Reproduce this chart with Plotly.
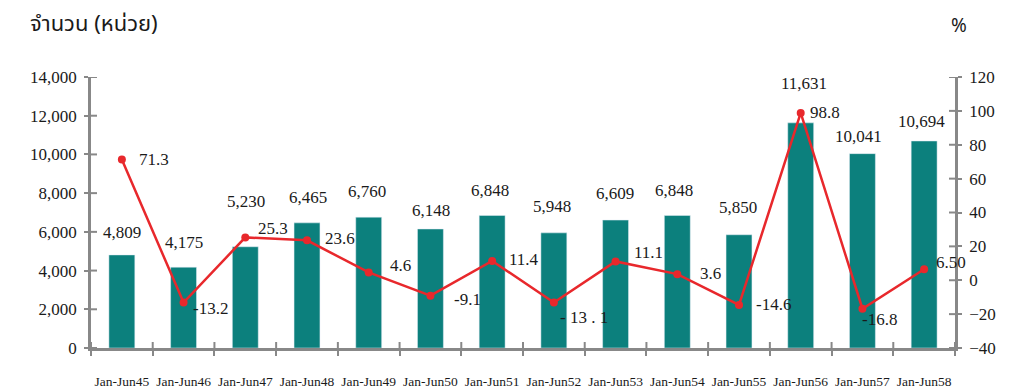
import plotly.graph_objects as go

categories = ["Jan-Jun45", "Jan-Jun46", "Jan-Jun47", "Jan-Jun48", "Jan-Jun49", "Jan-Jun50",
              "Jan-Jun51", "Jan-Jun52", "Jan-Jun53", "Jan-Jun54", "Jan-Jun55", "Jan-Jun56",
              "Jan-Jun57", "Jan-Jun58"]
units = [4809, 4175, 5230, 6465, 6760, 6148, 6848, 5948, 6609, 6848, 5850, 11631, 10041, 10694]
unit_labels = ["4,809", "4,175", "5,230", "6,465", "6,760", "6,148", "6,848", "5,948", "6,609",
               "6,848", "5,850", "11,631", "10,041", "10,694"]
growth = [71.3, -13.2, 25.3, 23.6, 4.6, -9.1, 11.4, -13.1, 11.1, 3.6, -14.6, 98.8, -16.8, 6.5]
growth_labels = ["71.3", "-13.2", "25.3", "23.6", "4.6", "-9.1", "11.4", "- 13 . 1", "11.1",
                 "3.6", "-14.6", "98.8", "-16.8", "6.50"]
left_ticks = [0, 2000, 4000, 6000, 8000, 10000, 12000, 14000]
left_tick_text = ["0", "2,000", "4,000", "6,000", "8,000", "10,000", "12,000", "14,000"]
right_ticks = [-40, -20, 0, 20, 40, 60, 80, 100, 120]

# label placement offsets (px) - styling only
bar_lbl_dx = [0, 0, 1, 1, -2, 1, -2, -2, -1, -3, -1, 3, -4, -3]
bar_lbl_dy = [22, 25, 45, 25, 26, 18, 25, 26, 27, 25, 27, 39, 17, 19]
ln_lbl_dx = [15, 7, 11, 16, 19, 22, 15, 4, 16, 21, 15, 7, -2, 10]
ln_lbl_dy = [0, -6, 9, 2, 7, -4, 1, -15, 9, 1, 0, 0, -11, 7]

BAR = "#0C807D"
RED = "#E8282C"
AX = "#888888"
SERIF = "Liberation Serif"
TXT = "#1a1a1a"

W, H = 1016, 390
ml, mr, mt, mb = 91, 61, 77, 42
pw, ph = W - ml - mr, H - mt - mb

fig = go.Figure()
fig.add_trace(go.Bar(x=categories, y=units, marker_color=BAR, width=0.42,
                     hoverinfo="skip", yaxis="y"))
fig.add_trace(go.Scatter(x=categories, y=growth, yaxis="y2", mode="lines+markers",
                         line=dict(color=RED, width=2.5),
                         marker=dict(color=RED, size=8), hoverinfo="skip"))

ann = []
for i, c in enumerate(categories):
    ann.append(dict(x=c, y=units[i], xref="x", yref="y", text=unit_labels[i],
                    showarrow=False, xshift=bar_lbl_dx[i], yshift=bar_lbl_dy[i],
                    font=dict(family=SERIF, size=17, color=TXT)))
    ann.append(dict(x=c, y=growth[i], xref="x", yref="y2", text=growth_labels[i],
                    showarrow=False, xanchor="left", xshift=ln_lbl_dx[i], yshift=ln_lbl_dy[i],
                    font=dict(family=SERIF, size=17, color=TXT)))

def px2paper(px, py):
    return (px - ml) / pw, (H - mb - py) / ph

tx, ty = px2paper(28, 25)
ann.append(dict(x=tx, y=ty, xref="paper", yref="paper", text="จำนวน (หน่วย)", showarrow=False,
                xanchor="left", yanchor="middle",
                font=dict(family="Noto Sans Thai, Noto Sans, sans-serif", size=22, color=TXT)))
px_, py_ = px2paper(959, 25)
ann.append(dict(x=px_, y=py_, xref="paper", yref="paper", text="%", showarrow=False,
                xanchor="center", yanchor="middle",
                font=dict(family="Noto Sans, sans-serif", size=19, color=TXT)))

# inner halves of the crossing tick marks
shapes = []
tick_in = 6
for i in range(len(categories) + 1):
    shapes.append(dict(type="line", xref="x", yref="paper", x0=i - 0.5, x1=i - 0.5,
                       y0=0, y1=tick_in / ph, line=dict(color=AX, width=2)))
for v in left_ticks:
    shapes.append(dict(type="line", xref="paper", yref="y", x0=0, x1=tick_in / pw,
                       y0=v, y1=v, line=dict(color=AX, width=2)))
for v in right_ticks:
    shapes.append(dict(type="line", xref="paper", yref="y2", x0=1 - tick_in / pw, x1=1,
                       y0=v, y1=v, line=dict(color=AX, width=2)))

fig.update_layout(
    width=W, height=H, margin=dict(l=ml, r=mr, t=mt, b=mb, autoexpand=False),
    plot_bgcolor="white", paper_bgcolor="white", showlegend=False,
    font=dict(family=SERIF, color=TXT),
    xaxis=dict(type="category", showline=True, linecolor=AX, linewidth=2.5,
               ticks="outside", ticklen=5, tickwidth=2, tickcolor=AX, tickson="boundaries",
               ticklabelstandoff=19, showgrid=False, zeroline=False, tickangle=0,
               automargin=False, range=[-0.5, 13.5],
               tickfont=dict(family=SERIF, size=13.5, color=TXT)),
    yaxis=dict(range=[0, 14000], tickvals=left_ticks, ticktext=left_tick_text,
               showline=True, linecolor=AX,
               linewidth=2.5, ticks="outside", ticklen=4, tickwidth=2, tickcolor=AX,
               showgrid=False, zeroline=False, ticklabelstandoff=4, automargin=False,
               tickfont=dict(family=SERIF, size=17, color=TXT)),
    yaxis2=dict(range=[-40, 120], tickvals=right_ticks, overlaying="y", side="right",
                showline=True,
                linecolor=AX, linewidth=2.5, ticks="outside", ticklen=4, tickwidth=2,
                tickcolor=AX, showgrid=False, zeroline=False, ticklabelstandoff=4,
                automargin=False, tickfont=dict(family=SERIF, size=17, color=TXT)),
    annotations=ann,
    shapes=shapes,
)

fig.write_html("out.html")
